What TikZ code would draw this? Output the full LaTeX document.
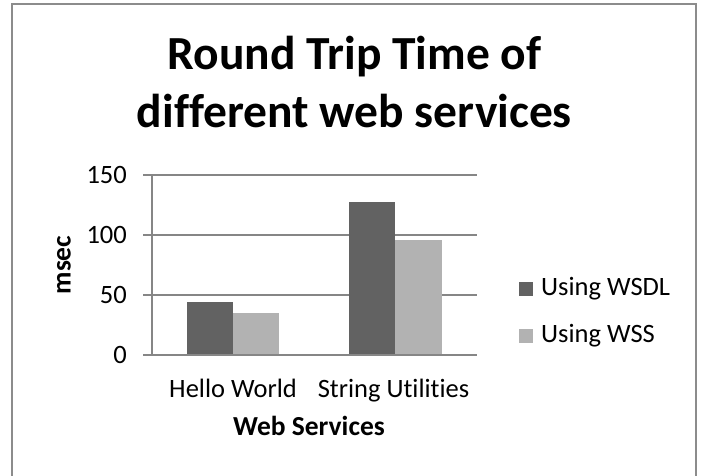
\documentclass[tikz,border=0pt]{standalone}
\usepackage{fontspec}
\setmainfont[Ligatures=NoCommon]{Carlito}
\definecolor{darkbar}{HTML}{626262}
\definecolor{lightbar}{HTML}{B2B2B2}
\definecolor{gridgray}{HTML}{868686}
\definecolor{framegray}{HTML}{8C8C8C}
\begin{document}
\begin{tikzpicture}[x=1pt,y=-1pt,
  gridline/.style={draw=gridgray,line width=1.4pt},
  lbl/.style={font=\fontsize{26.5}{30}\selectfont,inner sep=0pt},
  boldlbl/.style={font=\fontsize{27.5}{30}\selectfont\bfseries,inner sep=0pt},
  titlelbl/.style={font=\fontsize{47.5}{56}\selectfont\bfseries,inner sep=0pt},
  wsdl/.style={fill=darkbar},
  wss/.style={fill=lightbar}]
\useasboundingbox (0,0) rectangle (701,476);
\fill[white] (0,0) rectangle (701,476);
\draw[framegray,line width=2pt] (12,4.5) rectangle (696,490);
% title
\node[titlelbl,anchor=base] (t1) at (354.5,70) {Round Trip Time of};
\node[titlelbl,anchor=base] (t2) at (354.5,128) {different web services};
% grid
\foreach \yy/\v in {175/150,235/100,295/50,355/0}{
  \draw[gridline] (143,\yy) -- (477,\yy);
  \node[lbl,anchor=east] (tick\v) at (127,\yy) {\v};
}
\draw[gridline] (152,175) -- (152,355);
% bars
\fill[wsdl] (187,302.2) rectangle (233,354.3);
\fill[wss] (233,313) rectangle (279,354.3);
\fill[wsdl] (349,202) rectangle (395,354.3);
\fill[wss] (395,239.8) rectangle (442,354.3);
% axis labels
\node[lbl,anchor=base] (c1) at (233,397) {Hello World};
\node[lbl,anchor=base] (c2) at (393.5,397) {String Utilities};
\node[boldlbl,anchor=base] (xt) at (309,435) {Web Services};
\node[boldlbl,rotate=90] (yt) at (64,265) {msec};
% legend
\fill[wsdl] (519,282) rectangle (533,296);
\fill[wss] (519,329) rectangle (533,343);
\node[lbl,anchor=base west] (l1) at (541,295) {Using WSDL};
\node[lbl,anchor=base west] (l2) at (541,342) {Using WSS};
\end{tikzpicture}
\end{document}
